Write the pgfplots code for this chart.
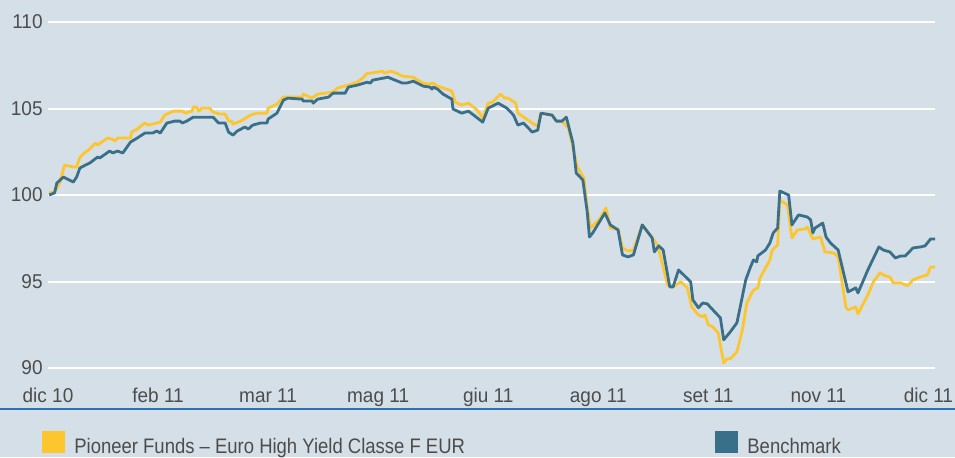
\documentclass[border=0pt]{standalone}
\usepackage{pgfplots}
\pgfplotsset{compat=1.18}
\usepackage{fontspec}
\setmainfont{Liberation Sans}
\newfontfamily\tickfont{Liberation Sans}[FakeStretch=0.95]
\newfontfamily\legfont{Liberation Sans}[FakeStretch=0.88]
\definecolor{bg}{HTML}{D5DFE7}
\definecolor{fundyellow}{HTML}{FDC62F}
\definecolor{benchblue}{HTML}{3A6F8A}
\definecolor{sepblue}{HTML}{2A72B5}
\definecolor{txt}{HTML}{4D4D4D}
\begin{document}
\begin{tikzpicture}
\path[use as bounding box, fill=bg] (0,0) rectangle (477.5pt,228.5pt);
\begin{axis}[
  at={(24pt,44.5pt)}, anchor=south west,
  scale only axis, width=443.5pt, height=173pt,
  xmin=0, xmax=8.06, ymin=90, ymax=110,
  axis line style={draw=none}, major tick length=0pt,
  xtick={0,1,2,3,4,5,6,7,8},
  xticklabels={dic 10, feb 11, mar 11, mag 11, giu 11, ago 11, set 11, nov 11, dic 11},
  ytick={90,95,100,105,110},
  ymajorgrids, grid style={white, line width=1pt},
  /pgf/number format/assume math mode=true,
  ticklabel style={font=\tickfont\fontsize{10}{12}\selectfont, text=txt},
  xticklabel style={anchor=base, inner sep=0pt, yshift=-17pt},
  yticklabel style={anchor=east, inner sep=0pt, xshift=-2.5pt},
  clip=false,
]
\addplot[fundyellow, line width=1.4pt, line join=round] coordinates {
(0.01,100.12)(0.06,100.17)(0.11,100.75)(0.15,101.73)(0.23,101.62)(0.26,101.62)(0.29,102.19)(0.34,102.48)(0.38,102.66)(0.43,103.00)(0.45,102.89)(0.54,103.29)(0.58,103.23)(0.61,103.12)(0.63,103.29)(0.75,103.29)(0.76,103.64)(0.81,103.81)(0.88,104.16)(0.91,104.04)(0.99,104.16)(1.02,104.21)(1.06,104.62)(1.14,104.85)(1.22,104.85)(1.25,104.73)(1.31,104.85)(1.32,105.08)(1.35,105.08)(1.37,104.85)(1.40,105.02)(1.47,105.02)(1.50,104.79)(1.56,104.68)(1.61,104.68)(1.64,104.27)(1.67,104.27)(1.68,104.10)(1.75,104.27)(1.81,104.50)(1.84,104.62)(1.90,104.73)(1.99,104.73)(2.00,105.02)(2.08,105.25)(2.14,105.66)(2.23,105.66)(2.31,105.66)(2.32,105.83)(2.40,105.60)(2.45,105.83)(2.59,105.95)(2.63,106.18)(2.73,106.35)(2.81,106.52)(2.86,106.76)(2.90,107.04)(2.93,107.04)(3.04,107.16)(3.06,107.04)(3.11,107.16)(3.17,107.04)(3.22,106.87)(3.32,106.81)(3.36,106.64)(3.41,106.47)(3.47,106.41)(3.50,106.47)(3.54,106.29)(3.67,106.01)(3.70,105.37)(3.76,105.20)(3.82,105.31)(3.90,104.91)(3.95,104.45)(4.00,105.31)(4.04,105.37)(4.11,105.83)(4.15,105.60)(4.18,105.60)(4.25,105.31)(4.27,104.73)(4.40,104.16)(4.45,103.98)(4.48,104.73)(4.58,104.62)(4.62,104.27)(4.67,104.27)(4.73,103.87)(4.81,101.62)(4.87,100.98)(4.90,99.25)(4.93,98.09)(5.02,98.67)(5.07,99.25)(5.11,98.09)(5.18,98.04)(5.22,96.94)(5.27,96.77)(5.32,96.82)(5.40,98.27)(5.54,97.11)(5.63,94.80)(5.68,94.69)(5.75,94.98)(5.81,94.63)(5.85,93.53)(5.91,93.07)(5.95,92.96)(5.97,93.07)(6.00,92.49)(6.04,92.38)(6.09,92.03)(6.14,90.30)(6.17,90.53)(6.20,90.53)(6.26,90.94)(6.31,92.21)(6.35,93.76)(6.41,94.51)(6.45,94.63)(6.47,95.21)(6.56,96.25)(6.58,96.82)(6.63,97.11)(6.65,99.71)(6.72,99.42)(6.76,97.52)(6.81,97.98)(6.88,98.04)(6.90,98.15)(6.95,97.46)(7.02,97.57)(7.06,96.71)(7.14,96.65)(7.18,96.42)(7.25,93.53)(7.27,93.36)(7.34,93.53)(7.36,93.13)(7.45,94.23)(7.50,94.98)(7.56,95.50)(7.61,95.32)(7.65,95.27)(7.68,94.92)(7.75,94.92)(7.81,94.75)(7.86,95.09)(7.93,95.27)(7.99,95.38)(8.02,95.84)(8.06,95.84)
};
\addplot[benchblue, line width=1.4pt, line join=round] coordinates {
(0.01,100.00)(0.06,100.12)(0.08,100.69)(0.14,101.04)(0.23,100.75)(0.26,101.04)(0.29,101.56)(0.34,101.73)(0.38,101.85)(0.45,102.19)(0.47,102.14)(0.56,102.54)(0.59,102.43)(0.63,102.54)(0.68,102.43)(0.75,103.06)(0.81,103.29)(0.88,103.58)(0.95,103.58)(0.99,103.70)(1.02,103.58)(1.05,103.87)(1.08,104.16)(1.15,104.27)(1.20,104.27)(1.22,104.16)(1.26,104.27)(1.32,104.50)(1.50,104.50)(1.55,104.16)(1.61,104.16)(1.64,103.64)(1.68,103.46)(1.72,103.70)(1.79,103.93)(1.82,103.81)(1.86,104.04)(1.93,104.16)(1.99,104.16)(2.00,104.39)(2.08,104.73)(2.14,105.49)(2.18,105.60)(2.31,105.54)(2.32,105.43)(2.40,105.43)(2.41,105.31)(2.45,105.54)(2.55,105.66)(2.59,105.89)(2.70,105.89)(2.73,106.24)(2.81,106.35)(2.90,106.52)(2.93,106.47)(2.95,106.64)(3.05,106.76)(3.09,106.81)(3.13,106.70)(3.22,106.47)(3.26,106.47)(3.32,106.58)(3.41,106.29)(3.47,106.24)(3.49,106.12)(3.50,106.24)(3.54,106.12)(3.59,105.83)(3.67,105.54)(3.68,104.97)(3.76,104.73)(3.82,104.85)(3.88,104.56)(3.95,104.21)(4.00,105.02)(4.09,105.31)(4.17,105.02)(4.23,104.62)(4.27,104.04)(4.32,104.16)(4.40,103.64)(4.45,103.75)(4.48,104.73)(4.58,104.62)(4.62,104.27)(4.67,104.27)(4.71,104.50)(4.77,103.00)(4.80,101.27)(4.86,100.87)(4.90,99.02)(4.92,97.57)(4.95,97.81)(5.06,98.96)(5.11,98.27)(5.18,97.98)(5.22,96.54)(5.27,96.42)(5.32,96.54)(5.40,98.27)(5.49,97.52)(5.51,96.71)(5.55,97.06)(5.59,96.82)(5.65,94.69)(5.68,94.69)(5.73,95.67)(5.84,94.98)(5.86,93.94)(5.91,93.48)(5.95,93.76)(5.99,93.71)(6.11,92.90)(6.14,91.63)(6.20,92.09)(6.26,92.61)(6.29,93.53)(6.34,95.09)(6.38,95.78)(6.41,96.25)(6.44,96.13)(6.45,96.48)(6.52,96.82)(6.56,97.23)(6.59,97.81)(6.63,98.09)(6.65,100.23)(6.73,100.00)(6.76,98.27)(6.82,98.85)(6.90,98.73)(6.93,98.56)(6.95,97.81)(6.97,98.09)(7.04,98.38)(7.07,97.57)(7.11,97.23)(7.18,96.82)(7.27,94.40)(7.34,94.63)(7.36,94.34)(7.45,95.67)(7.55,97.00)(7.59,96.82)(7.65,96.71)(7.70,96.36)(7.75,96.48)(7.79,96.48)(7.86,96.94)(7.93,97.00)(7.97,97.06)(8.02,97.46)(8.06,97.46)
};
\end{axis}
\draw[sepblue, line width=1pt] (0,24pt) -- (477.5pt,24pt);
\fill[fundyellow] (21pt,2pt) rectangle (32.5pt,13pt);
\node[anchor=base west, inner sep=0pt, text=txt, font=\legfont\fontsize{10.5}{12}\selectfont] at (37pt,1.85pt) {Pioneer Funds – Euro High Yield Classe F EUR};
\fill[benchblue] (357.5pt,2pt) rectangle (369pt,13pt);
\node[anchor=base west, inner sep=0pt, text=txt, font=\legfont\fontsize{10.5}{12}\selectfont] at (373.5pt,1.85pt) {Benchmark};
\end{tikzpicture}
\end{document}
